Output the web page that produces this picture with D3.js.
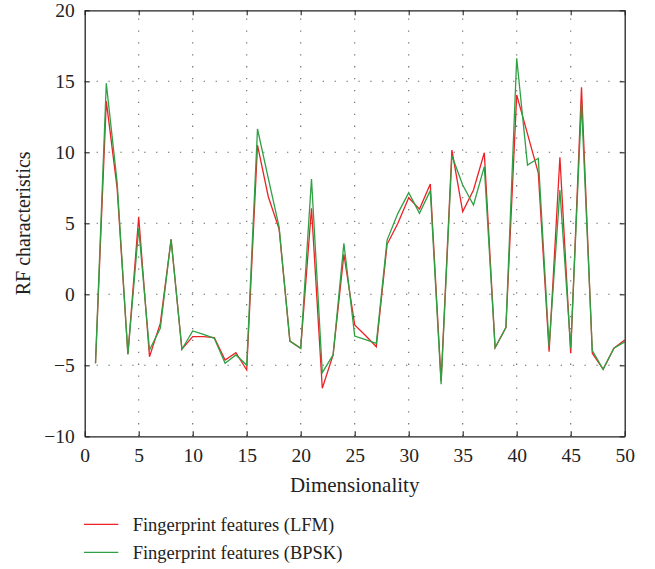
<!DOCTYPE html>
<html>
<head>
<meta charset="utf-8">
<script src="https://cdn.jsdelivr.net/npm/d3@7"></script>
<style>
  html, body { margin: 0; padding: 0; background: #fff; }
  svg text { font-family: "Liberation Serif", "DejaVu Serif", serif; fill: #222; }
</style>
</head>
<body>
<svg id="chart" width="655" height="569"></svg>
<script>
// Feature index (dimensionality) 1..50
const dims = d3.range(1, 51);

// RF fingerprint feature values per dimension
const lfmValues = [
  -4.85, 13.6, 7.5, -4.2, 5.45, -4.4, -2.05, 3.87, -3.87, -2.98,
  -2.98, -3.05, -4.63, -4.11, -5.33, 10.5, 6.87, 4.6, -3.29, -3.8,
  6.06, -6.62, -4.27, 2.82, -2.16, -2.9, -3.69, 3.52, 5.0, 6.8,
  6.0, 7.77, -6.1, 10.16, 5.82, 7.35, 9.97, -3.76, -2.35, 14.04,
  11.3, 8.55, -4.04, 9.65, -4.15, 14.58, -4.15, -5.28, -3.8, -3.22
];
const bpskValues = [
  -4.85, 14.86, 7.9, -4.23, 4.65, -3.92, -2.39, 3.87, -3.87, -2.58,
  -2.82, -3.1, -4.86, -4.27, -4.98, 11.64, 8.17, 4.75, -3.29, -3.8,
  8.12, -5.52, -4.27, 3.59, -2.94, -3.2, -3.45, 3.82, 5.7, 7.16,
  5.7, 7.3, -6.34, 9.76, 7.7, 6.29, 8.99, -3.76, -2.35, 16.62,
  9.1, 9.58, -3.69, 7.34, -3.8, 13.45, -3.97, -5.28, -3.8, -3.35
];

const xTicks = [0, 5, 10, 15, 20, 25, 30, 35, 40, 45, 50];
const yTicks = [-10, -5, 0, 5, 10, 15, 20];

const seriesNames = ["Fingerprint features (LFM)", "Fingerprint features (BPSK)"];
const seriesColors = ["#ec2227", "#2fa043"];

const svg = d3.select("#chart");
const plotLeft = 84.7, plotRight = 624.7, plotTop = 10.3, plotBottom = 436.3;

const x = d3.scaleLinear().domain([0, 50]).range([plotLeft, plotRight]);
const y = d3.scaleLinear().domain([-10, 20]).range([plotBottom, plotTop]);

// dotted grid
const grid = svg.append("g").attr("stroke", "#666").attr("stroke-width", 1.1)
  .attr("stroke-dasharray", "1.3,10.6");
grid.selectAll("line.v").data(xTicks.slice(1, -1)).join("line").attr("class", "v")
  .attr("x1", d => x(d)).attr("x2", d => x(d))
  .attr("y1", plotBottom).attr("y2", plotTop);
grid.selectAll("line.h").data(yTicks.slice(1, -1)).join("line").attr("class", "h")
  .attr("x1", plotLeft).attr("x2", plotRight)
  .attr("y1", d => y(d)).attr("y2", d => y(d));

// series lines
const line = d3.line().x((d, i) => x(dims[i])).y(d => y(d));
[lfmValues, bpskValues].forEach((vals, k) => {
  svg.append("path").datum(vals)
    .attr("fill", "none")
    .attr("stroke", seriesColors[k])
    .attr("stroke-width", 1.3)
    .attr("stroke-linejoin", "miter")
    .attr("d", line);
});

// axes with inward ticks on all four sides
const fmt = d => (d < 0 ? "\u2212" + Math.abs(d) : String(d));
const axB = svg.append("g").attr("transform", `translate(0,${plotBottom})`)
  .call(d3.axisBottom(x).tickValues(xTicks).tickSizeInner(-5).tickSizeOuter(0).tickPadding(12).tickFormat(fmt));
const axT = svg.append("g").attr("transform", `translate(0,${plotTop})`)
  .call(d3.axisTop(x).tickValues(xTicks).tickSizeInner(-5).tickSizeOuter(0).tickFormat(""));
const axL = svg.append("g").attr("transform", `translate(${plotLeft},0)`)
  .call(d3.axisLeft(y).tickValues(yTicks).tickSizeInner(-5).tickSizeOuter(0).tickPadding(10).tickFormat(fmt));
const axR = svg.append("g").attr("transform", `translate(${plotRight},0)`)
  .call(d3.axisRight(y).tickValues(yTicks).tickSizeInner(-5).tickSizeOuter(0).tickFormat(""));
[axB, axT, axL, axR].forEach(a => {
  a.select(".domain").attr("stroke", "#222").attr("stroke-width", 1.3);
  a.selectAll(".tick line").attr("stroke", "#222").attr("stroke-width", 1.1);
  a.selectAll("text").attr("font-family", "Liberation Serif, DejaVu Serif, serif")
    .attr("font-size", 19.5).attr("fill", "#222");
});

// axis titles
svg.append("text").attr("x", (plotLeft + plotRight) / 2).attr("y", 492)
  .attr("text-anchor", "middle").attr("font-size", 21).text("Dimensionality");
svg.append("text")
  .attr("transform", `translate(30,${(plotTop + plotBottom) / 2}) rotate(-90)`)
  .attr("text-anchor", "middle").attr("font-size", 20).text("RF characteristics");

// legend
const legY = [524.3, 552.3];
seriesNames.forEach((name, k) => {
  svg.append("line").attr("x1", 84).attr("x2", 118.3)
    .attr("y1", legY[k]).attr("y2", legY[k])
    .attr("stroke", seriesColors[k]).attr("stroke-width", 1.3);
  svg.append("text").attr("x", 132.7).attr("y", legY[k] + 6.5)
    .attr("font-size", 18.5).text(name);
});
</script>
</body>
</html>
